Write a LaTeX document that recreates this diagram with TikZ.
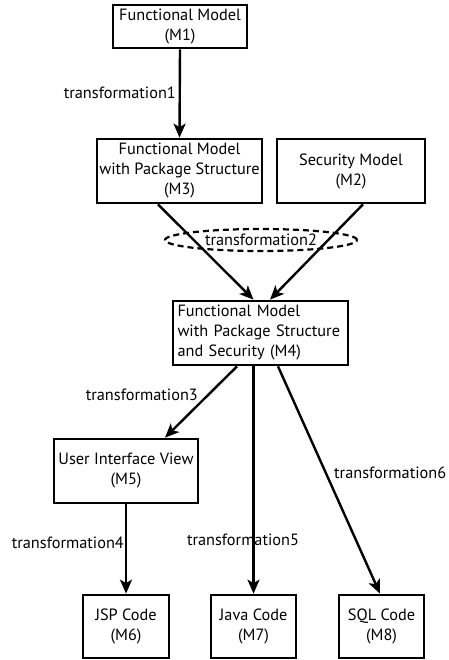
\documentclass[tikz,border=0pt]{standalone}
\usepackage{fontspec}
\setmainfont{PT Sans}
\usetikzlibrary{arrows.meta,shapes.geometric}
\begin{document}
\begin{tikzpicture}[x=1pt,y=-1pt,
  font=\fontsize{16.3}{20}\selectfont,
  box/.style={draw,line width=2.7pt,inner sep=0pt,align=center},
  conn/.style={line width=2.4pt,-{Stealth[length=14pt,width=12pt,inset=3.5pt]}},
  lbl/.style={inner sep=0pt}]
\useasboundingbox (0,0) rectangle (448,660);
\node[box,minimum width=134,minimum height=43] (M1) at (180,26.5) {Functional Model\\(M1)};
\node[box,minimum width=165,minimum height=64] (M3) at (179.5,171) {Functional Model\\with Package Structure\\(M3)};
\node[box,minimum width=148,minimum height=64] (M2) at (351,171) {Security Model\\(M2)};
\node[box,minimum width=175,minimum height=64,text width=166,align=left] (M4) at (260.5,333) {Functional Model\\with Package Structure\\and Security (M4)};
\node[box,minimum width=144,minimum height=64] (M5) at (126,471) {User Interface View\\(M5)};
\node[box,minimum width=86,minimum height=63] (M6) at (126,626.5) {JSP Code\\(M6)};
\node[box,minimum width=85,minimum height=63] (M7) at (253.5,626.5) {Java Code\\(M7)};
\node[box,minimum width=85,minimum height=63] (M8) at (381.5,626.5) {SQL Code\\(M8)};
\node[draw,ellipse,dashed,dash pattern=on 6pt off 4pt,line width=2.2pt,minimum width=192,minimum height=22,inner sep=0pt] (E) at (261,240) {};
\draw[conn] (M1.south) -- (M3.north);
\draw[conn] ([xshift=-21.5pt]M3.south) -- ([xshift=-7pt]M4.north);
\draw[conn] ([xshift=12pt]M2.south) -- ([xshift=9.5pt]M4.north);
\draw[conn] ([xshift=-23.5pt]M4.south) -- ([xshift=39pt]M5.north);
\draw[conn] (M7.north |- M4.south) -- (M7.north);
\draw[conn] ([xshift=17.5pt]M4.south) -- ([xshift=-1.5pt]M8.north);
\draw[conn] (M5.south) -- (M6.north);
\node[lbl,anchor=east] (t1) at (176,93) {transformation1};
\node[lbl] (t2) at (261,240) {transformation2};
\node[lbl,anchor=east] (t3) at (198,395) {transformation3};
\node[lbl,anchor=east] (t4) at (124,543) {transformation4};
\node[lbl] (t5) at (243,540) {transformation5};
\node[lbl,anchor=west] (t6) at (334,473) {transformation6};
\end{tikzpicture}
\end{document}
